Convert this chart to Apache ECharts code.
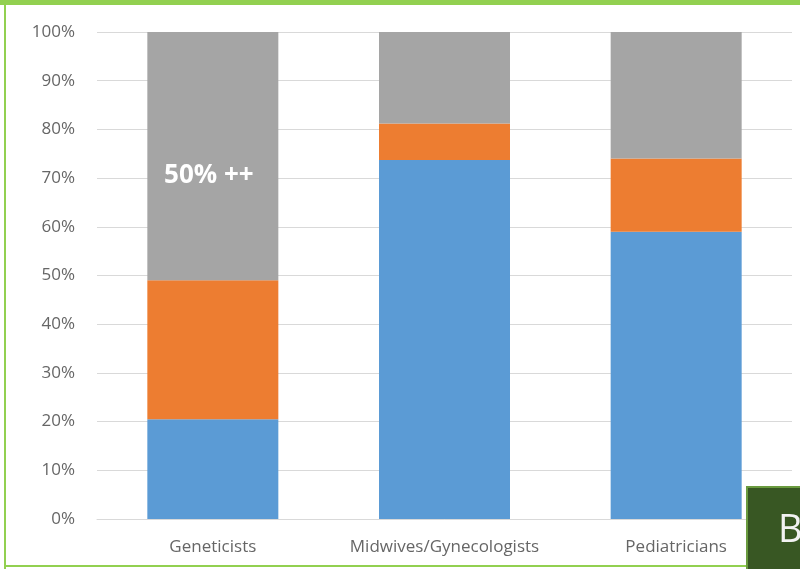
<!DOCTYPE html>
<html>
<head>
<meta charset="utf-8">
<script src="https://cdn.jsdelivr.net/npm/echarts@6/dist/echarts.min.js"></script>
<style>
  html, body { margin: 0; padding: 0; background: #fff; }
  #chart { width: 800px; height: 569px; }
</style>
</head>
<body>
<div id="chart"></div>
<script>
// Professional groups and their stacked shares (percent)
const categories = ['Geneticists', 'Midwives/Gynecologists', 'Pediatricians'];
const blueShare = [20.5, 73.7, 59.0];
const orangeShare = [28.5, 7.5, 15.0];
const grayShare = [51.0, 18.8, 26.0];
const yTicks = [0, 10, 20, 30, 40, 50, 60, 70, 80, 90, 100];

const font = '"Open Sans", Lato, sans-serif';
const chart = echarts.init(document.getElementById('chart'));

function barSeries(name, data, color) {
  return {
    name: name,
    type: 'bar',
    stack: 'total',
    barWidth: 131,
    data: data,
    itemStyle: { color: color },
    emphasis: { disabled: true }
  };
}

const series = [
  barSeries('blue', blueShare, '#5b9bd5'),
  barSeries('orange', orangeShare, '#ed7d31'),
  barSeries('gray', grayShare, '#a5a5a5')
];
// Annotation inside the gray segment of the first bar
series[2].markPoint = {
  symbol: 'rect',
  symbolSize: 0,
  silent: true,
  data: [{ coord: [0, 70], value: '50% ++' }],
  label: {
    show: true,
    formatter: '50% ++',
    color: '#ffffff',
    fontFamily: font,
    fontWeight: 'bold',
    fontSize: 26,
    offset: [-4, -3]
  }
};

chart.setOption({
  animation: false,
  grid: { left: 97, right: 8, top: 32, bottom: 50 },
  xAxis: {
    type: 'category',
    data: categories,
    axisLine: { show: true, lineStyle: { color: '#d9d9d9', width: 1 } },
    axisTick: { show: false },
    axisLabel: { interval: 0, hideOverlap: false, color: '#666666', fontFamily: font, fontSize: 17, margin: 20 }
  },
  yAxis: {
    type: 'value',
    min: yTicks[0],
    max: yTicks[yTicks.length - 1],
    interval: 10,
    axisLine: { show: false },
    axisTick: { show: false },
    splitLine: { lineStyle: { color: '#d9d9d9', width: 1 } },
    axisLabel: { color: '#666666', fontFamily: font, fontSize: 17, margin: 22, formatter: '{value}%' }
  },
  series: series,
  graphic: [
    // green frame around the panel
    { type: 'rect', shape: { x: 0, y: 0, width: 800, height: 5 }, style: { fill: '#92d050' }, z: 10 },
    { type: 'rect', shape: { x: 4, y: 0, width: 2, height: 569 }, style: { fill: '#92d050' }, z: 10 },
    { type: 'rect', shape: { x: 4, y: 565, width: 796, height: 2 }, style: { fill: '#92d050' }, z: 10 },
    // panel letter box
    {
      type: 'rect',
      shape: { x: 747, y: 487, width: 60, height: 90 },
      style: { fill: '#385723', stroke: '#6a9b3f', lineWidth: 2 },
      z: 20
    },
    {
      type: 'text',
      x: 778, y: 531,
      style: { text: 'B', fill: '#f2f2f2', fontFamily: font, fontSize: 38, verticalAlign: 'middle' },
      z: 21
    }
  ]
});
</script>
</body>
</html>
